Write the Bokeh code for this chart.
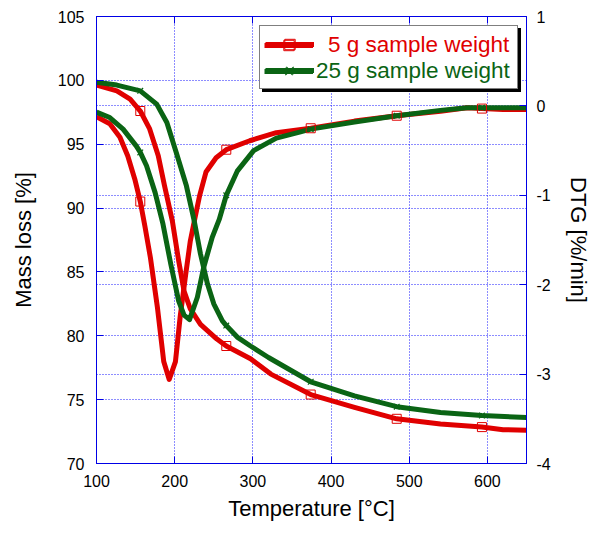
from bokeh.plotting import figure
from bokeh.models import Range1d, LinearAxis, FixedTicker, Grid, Legend, LegendItem
from bokeh.embed import file_html
from bokeh.resources import INLINE

# ---------------- data ----------------
temp_ticks = [100, 200, 300, 400, 500, 600]
mass_ticks = [70, 75, 80, 85, 90, 95, 100, 105]
dtg_ticks = [-4, -3, -2, -1, 0, 1]
marker_temps = [156, 266, 374, 484, 593]

labels = ["5 g sample weight", "25 g sample weight"]

# 5 g sample: mass loss (TG) [%]
t_tg5 = [100, 126, 143, 156, 168, 179, 187, 197, 205, 212, 220, 233, 254, 266, 297, 323, 374, 430, 484, 540, 593, 620, 650]
tg5 = [99.63, 99.18, 98.53, 97.6, 96.2, 94.1, 91.74, 89.0, 85.9, 83.5, 82.1, 80.9, 79.74, 79.2, 78.2, 77.0, 75.4, 74.4, 73.5, 73.1, 72.85, 72.65, 72.6]

# 25 g sample: mass loss (TG) [%]
t_tg25 = [100, 126, 156, 177, 190, 202, 215, 225, 233, 242, 250, 261, 266, 280, 297, 320, 374, 430, 484, 540, 593, 650]
tg25 = [99.85, 99.63, 99.18, 98.14, 96.7, 94.35, 91.74, 89.0, 86.4, 84.05, 82.5, 81.17, 80.8, 79.9, 79.2, 78.3, 76.4, 75.3, 74.45, 74.0, 73.75, 73.6]

# 5 g sample: DTG [%/min]
t_dtg5 = [100, 117, 130, 140, 149, 156, 162, 169, 178, 186, 193, 201, 207, 214, 220, 226, 232, 240, 253, 266, 296, 330, 374, 430, 484, 540, 574, 593, 620, 650]
dtg5 = [-0.12, -0.20, -0.35, -0.56, -0.82, -1.07, -1.35, -1.70, -2.26, -2.86, -3.06, -2.86, -2.36, -1.89, -1.51, -1.25, -1.00, -0.74, -0.58, -0.49, -0.39, -0.30, -0.25, -0.17, -0.11, -0.06, -0.02, -0.03, -0.04, -0.04]

# 25 g sample: DTG [%/min]
t_dtg25 = [100, 117, 134, 151, 156, 164, 175, 185, 195, 205, 212, 219, 229, 237, 248, 257, 266, 280, 301, 330, 361, 374, 430, 484, 540, 574, 593, 620, 650]
dtg25 = [-0.07, -0.13, -0.26, -0.45, -0.52, -0.67, -0.97, -1.32, -1.77, -2.18, -2.34, -2.39, -2.14, -1.81, -1.47, -1.27, -1.00, -0.73, -0.50, -0.36, -0.29, -0.26, -0.18, -0.11, -0.05, -0.02, -0.02, -0.02, -0.02]

RED = "#e00000"
GREEN = "#0a6414"
BLUE = "#0000e6"
GRIDC = "#1a1aff"
FONT = "Liberation Sans"


def pick(ts, ys):
    xs, vs = [], []
    for t, v in zip(ts, ys):
        if t in marker_temps:
            xs.append(t)
            vs.append(v)
    return xs, vs


p = figure(width=594, height=524, output_backend="svg", toolbar_location=None,
           x_range=Range1d(100, 650), y_range=Range1d(70, 105),
           min_border_left=96, min_border_right=68, min_border_top=16, min_border_bottom=61)
p.extra_y_ranges = {"dtg": Range1d(-4, 1)}
p.outline_line_color = BLUE
p.outline_line_width = 1
p.background_fill_color = "white"
p.border_fill_color = "white"


def style_axis(ax):
    ax.axis_line_color = BLUE
    ax.major_tick_line_color = BLUE
    ax.major_tick_in = 7
    ax.major_tick_out = 0
    ax.minor_tick_line_color = None
    ax.major_label_text_font = FONT
    ax.major_label_text_font_size = "16px"
    ax.major_label_text_color = "black"
    ax.axis_label_text_font = FONT
    ax.axis_label_text_font_size = "22px"
    ax.axis_label_text_font_style = "normal"
    ax.axis_label_text_color = "black"


xax = p.below[0]
xax.ticker = FixedTicker(ticks=temp_ticks)
xax.axis_label = "Temperature [°C]"
style_axis(xax)
xax.major_label_standoff = 11
xax.axis_label_standoff = 6

yax = p.left[0]
yax.ticker = FixedTicker(ticks=mass_ticks)
yax.axis_label = "Mass loss [%]"
style_axis(yax)
yax.major_label_standoff = 12
yax.axis_label_standoff = 19

rax = LinearAxis(y_range_name="dtg", ticker=FixedTicker(ticks=dtg_ticks), axis_label="DTG [%/min]")
style_axis(rax)
rax.major_label_overrides = {t: str(t) for t in dtg_ticks}
rax.major_label_standoff = 10
rax.axis_label_standoff = 12
p.add_layout(rax, "right")

tax = LinearAxis(ticker=FixedTicker(ticks=temp_ticks))
style_axis(tax)
tax.major_label_text_font_size = "1px"
tax.major_label_text_color = None
tax.major_label_text_alpha = 0
tax.major_label_standoff = 0
p.add_layout(tax, "above")

p.xgrid.ticker = FixedTicker(ticks=temp_ticks)
p.ygrid.ticker = FixedTicker(ticks=mass_ticks)
for g in (p.xgrid[0], p.ygrid[0]):
    g.grid_line_color = GRIDC
    g.grid_line_dash = "1 2"
    g.grid_line_width = 1
g2 = Grid(dimension=1, ticker=FixedTicker(ticks=dtg_ticks), y_range_name="dtg",
          grid_line_color=GRIDC, grid_line_dash="1 2", grid_line_width=1)
p.add_layout(g2)

LW = 5
l_tg5 = p.line(t_tg5, tg5, line_color=RED, line_width=LW, line_join="round")
l_dtg5 = p.line(t_dtg5, dtg5, line_color=RED, line_width=LW, line_join="round", y_range_name="dtg")
l_tg25 = p.line(t_tg25, tg25, line_color=GREEN, line_width=LW, line_join="round")
l_dtg25 = p.line(t_dtg25, dtg25, line_color=GREEN, line_width=LW, line_join="round", y_range_name="dtg")

mx, my = pick(t_tg5, tg5)
m_tg5 = p.scatter(mx, my, marker="square", size=9, fill_color=None, line_color=RED, line_width=1)
mx, my = pick(t_dtg5, dtg5)
p.scatter(mx, my, marker="square", size=9, fill_color=None, line_color=RED, line_width=1, y_range_name="dtg")
mx, my = pick(t_tg25, tg25)
m_tg25 = p.scatter(mx, my, marker="x", size=8, line_color=GREEN, line_width=1.2)
mx, my = pick(t_dtg25, dtg25)
p.scatter(mx, my, marker="x", size=8, line_color=GREEN, line_width=1.2, y_range_name="dtg")

# legend: shadow box, frame box, and two coloured label rows
LX = 163
PAD = 5
ROW = 26
box_bottom = 374


def mk_legend(items, loc, standoff, color, framed, bg="white", lw=0):
    lg = Legend(items=items, location=loc, padding=PAD, spacing=0, margin=0,
                glyph_width=49, glyph_height=ROW, label_height=ROW, label_standoff=standoff,
                label_text_font=FONT, label_text_font_size="22.5px", label_text_color=color)
    if framed:
        lg.border_line_color = "black"
        lg.border_line_width = lw
        lg.background_fill_color = bg
        lg.background_fill_alpha = 1.0
        lg.label_width = 195
        lg.label_text_color = None
        lg.label_text_alpha = 0
    else:
        lg.border_line_alpha = 0
        lg.background_fill_alpha = 0
    return lg


shadow = mk_legend([LegendItem(label="", renderers=[l_tg5]), LegendItem(label="", renderers=[l_tg25])],
                   (LX + 3, box_bottom - 3), 3, "black", True, bg="black", lw=1.5)
frame = mk_legend([LegendItem(label="", renderers=[l_tg5, m_tg5]), LegendItem(label="", renderers=[l_tg25, m_tg25])],
                  (LX, box_bottom), 3, "black", True, bg="white", lw=1.5)
leg5 = mk_legend([LegendItem(label=labels[0], renderers=[l_tg5, m_tg5])],
                 (LX, box_bottom + ROW), 15, RED, False)
leg25 = mk_legend([LegendItem(label=labels[1], renderers=[l_tg25, m_tg25])],
                  (LX, box_bottom), 3, GREEN, False)
for lg in (shadow, frame, leg5, leg25):
    p.add_layout(lg)

open("out.html", "w").write(file_html(p, INLINE))
